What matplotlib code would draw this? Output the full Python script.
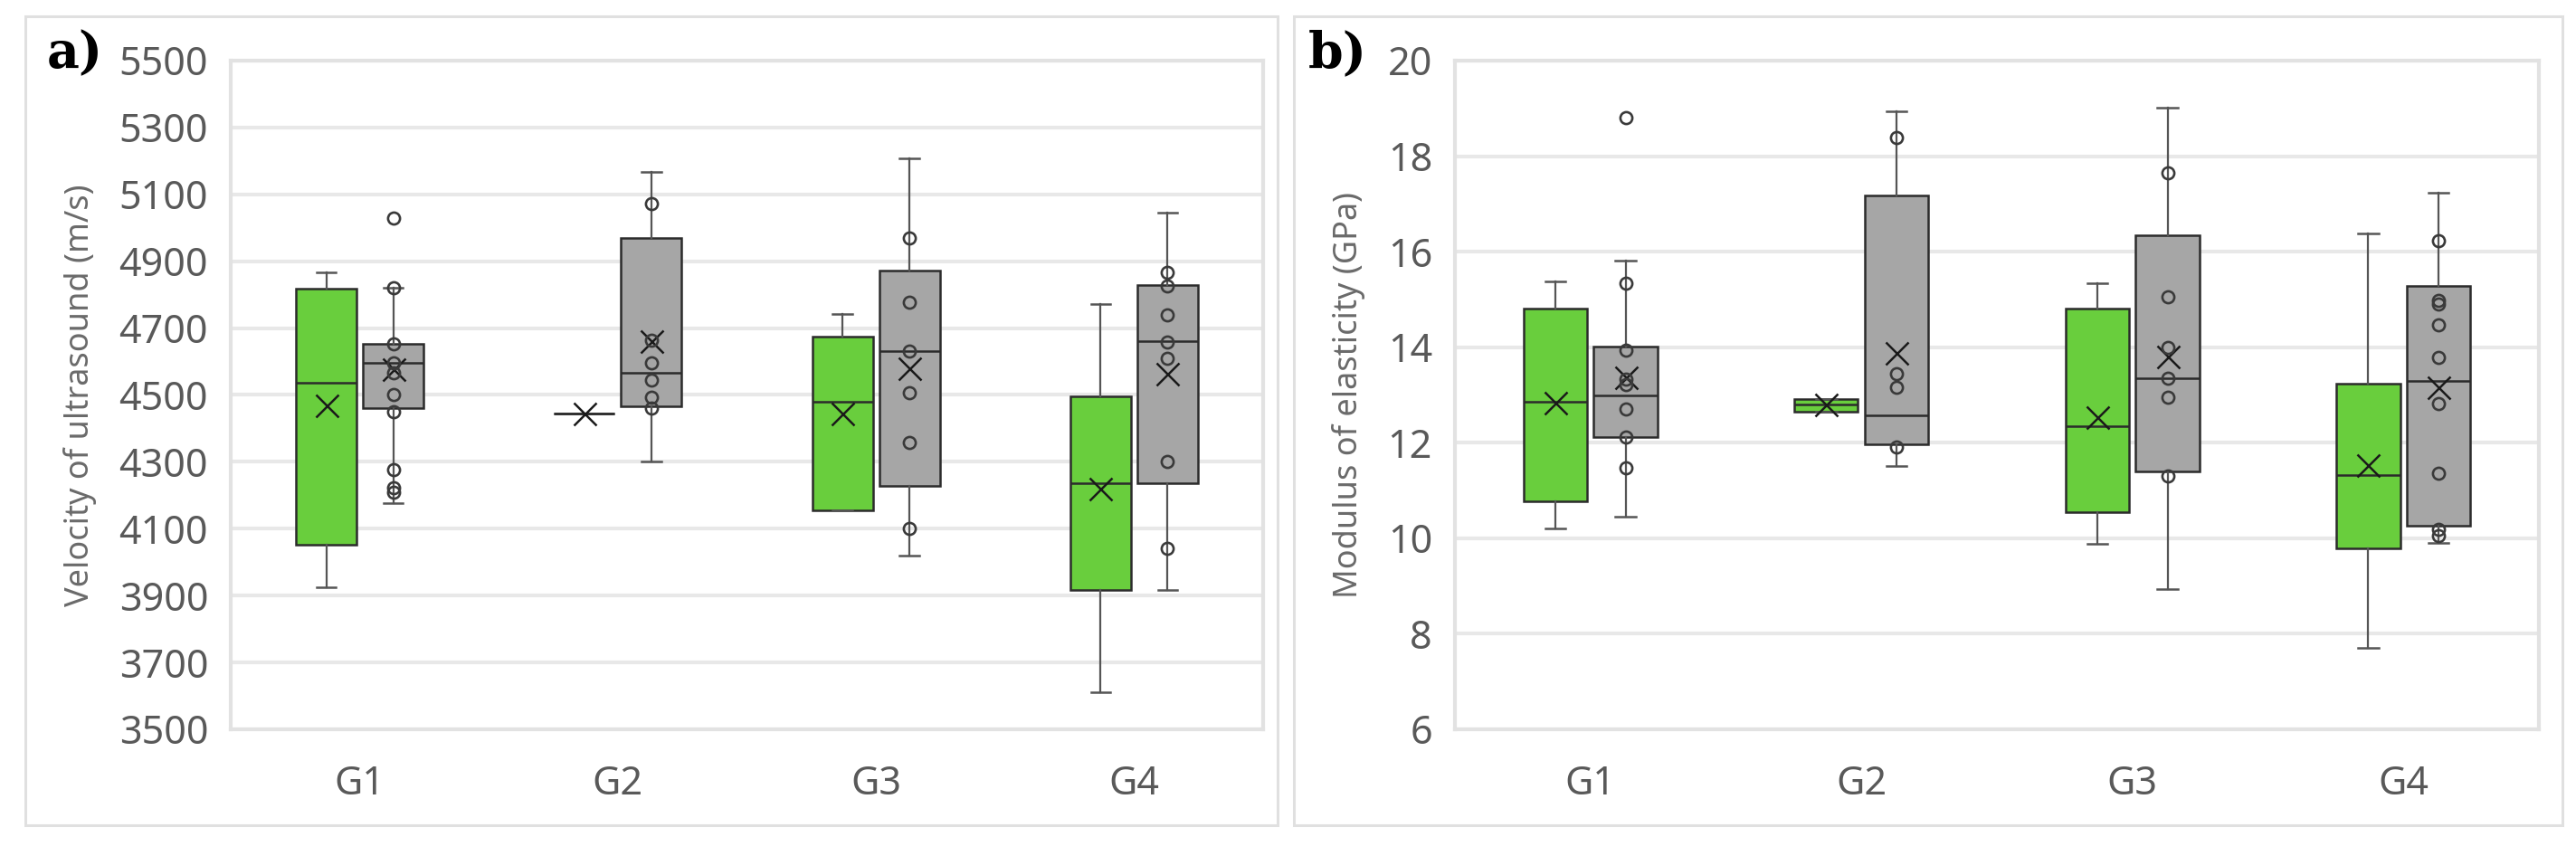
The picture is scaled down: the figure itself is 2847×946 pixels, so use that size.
import matplotlib
matplotlib.use("Agg")
import matplotlib.pyplot as plt
from matplotlib.patches import Rectangle

plt.rcParams['font.family'] = ['Noto Sans', 'DejaVu Sans']

groups = ["G1", "G2", "G3", "G4"]

# a) velocity of ultrasound, green series (summary read off the boxes)
vel_green_lo = [3925, 4445, 4154, 3611]
vel_green_q1 = [4051, 4445, 4154, 3917]
vel_green_med = [4537, 4445, 4479, 4237]
vel_green_q3 = [4817, 4445, 4675, 4497]
vel_green_hi = [4868, 4445, 4742, 4773]
vel_green_mean = [4468, 4445, 4445, 4220]

# a) gray series
vel_gray_lo = [4177, 4300, 4020, 3917]
vel_gray_q1 = [4462, 4466, 4228, 4237]
vel_gray_med = [4596, 4566, 4631, 4660]
vel_gray_q3 = [4654, 4969, 4871, 4828]
vel_gray_hi = [4820, 5166, 5209, 5045]
vel_gray_mean = [4578, 4660, 4580, 4563]
vel_gray_points = [
    [5028, 4820, 4654, 4595, 4565, 4500, 4449, 4276, 4222, 4208],
    [5071, 4665, 4596, 4545, 4494, 4460],
    [4969, 4778, 4631, 4508, 4357, 4100],
    [4866, 4826, 4740, 4658, 4610, 4300, 4040],
]

# b) modulus of elasticity, green series
moe_green_lo = [10.20, 12.64, 9.88, 7.70]
moe_green_q1 = [10.77, 12.64, 10.54, 9.78]
moe_green_med = [12.85, 12.80, 12.34, 11.32]
moe_green_q3 = [14.81, 12.92, 14.80, 13.23]
moe_green_hi = [15.37, 12.92, 15.33, 16.38]
moe_green_mean = [12.83, 12.80, 12.53, 11.54]

# b) gray series
moe_gray_lo = [10.46, 11.52, 8.94, 9.90]
moe_gray_q1 = [12.11, 11.96, 11.39, 10.27]
moe_gray_med = [12.99, 12.57, 13.35, 13.30]
moe_gray_q3 = [14.02, 17.17, 16.35, 15.29]
moe_gray_hi = [15.82, 18.93, 19.02, 17.23]
moe_gray_mean = [13.36, 13.88, 13.81, 13.16]
moe_gray_points = [
    [18.80, 15.34, 13.94, 13.33, 13.21, 12.71, 12.11, 11.47],
    [18.38, 13.45, 13.16, 11.91],
    [17.65, 15.06, 14.00, 13.35, 12.95, 11.30],
    [16.23, 14.98, 14.91, 14.47, 13.79, 12.82, 11.36, 10.19, 10.05],
]

GREEN = "#69CE3D"
GRAY = "#A6A6A6"
TXT = "#595959"


def make_stats(lo, q1, med, q3, hi, mean):
    """build the dicts that bxp wants"""
    return [dict(whislo=a, q1=b, med=c, q3=d, whishi=e, mean=f, fliers=[])
            for a, b, c, d, e, f in zip(lo, q1, med, q3, hi, mean)]


def draw_boxes(ax, stats, pos, color):
    ax.bxp(stats, positions=pos, widths=0.235, capwidths=0.075,
           showmeans=True, showfliers=False, patch_artist=True,
           boxprops=dict(facecolor=color, edgecolor="#2b2b2b", linewidth=1.8),
           medianprops=dict(color="#2b2b2b", linewidth=1.8),
           whiskerprops=dict(color="#555555", linewidth=1.6),
           capprops=dict(color="#555555", linewidth=1.8),
           meanprops=dict(marker="x", markersize=18, markeredgewidth=1.8,
                          markeredgecolor="#1a1a1a"))


def panel(ax, green, gray, points, ylim, ticks, ylabel):
    xs = range(1, len(groups) + 1)
    pos_green = [x - 0.13 for x in xs]
    pos_gray = [x + 0.13 for x in xs]
    draw_boxes(ax, make_stats(*green), pos_green, GREEN)
    draw_boxes(ax, make_stats(*gray), pos_gray, GRAY)
    for p, pts in zip(pos_gray, points):
        ax.plot([p] * len(pts), pts, linestyle="none", marker="o", markersize=9.5,
                markerfacecolor="none", markeredgecolor="#3a3a3a",
                markeredgewidth=1.9, zorder=5)
    ax.set_xlim(0.5, len(groups) + 0.5)
    ax.set_ylim(*ylim)
    ax.set_yticks(ticks)
    ax.set_xticks(list(xs))
    ax.set_xticklabels(groups)
    ax.grid(axis="y", color="#E8E8E8", linewidth=3)
    ax.set_axisbelow(True)
    for s in ax.spines.values():
        s.set_color("#E2E2E2")
        s.set_linewidth(3)
    ax.tick_params(axis="y", length=0, pad=18, labelsize=31, labelcolor=TXT)
    ax.tick_params(axis="x", length=0, pad=28, labelsize=31, labelcolor=TXT)
    ax.set_ylabel(ylabel, fontsize=26, color="#6a6a6a", labelpad=18)


fig = plt.figure(figsize=(28.47, 9.46), dpi=100)
ax1 = fig.add_axes([0.0896, 0.148, 0.4007, 0.7812])
ax2 = fig.add_axes([0.5648, 0.148, 0.4208, 0.7812])

panel(ax1,
      (vel_green_lo, vel_green_q1, vel_green_med, vel_green_q3, vel_green_hi, vel_green_mean),
      (vel_gray_lo, vel_gray_q1, vel_gray_med, vel_gray_q3, vel_gray_hi, vel_gray_mean),
      vel_gray_points, (3500, 5500), range(3500, 5501, 200),
      "Velocity of ultrasound (m/s)")
panel(ax2,
      (moe_green_lo, moe_green_q1, moe_green_med, moe_green_q3, moe_green_hi, moe_green_mean),
      (moe_gray_lo, moe_gray_q1, moe_gray_med, moe_gray_q3, moe_gray_hi, moe_gray_mean),
      moe_gray_points, (6, 20), range(6, 21, 2),
      "Modulus of elasticity (GPa)")

# outer frames of the two panels
fig.add_artist(Rectangle((0.0098, 0.036), 0.4862, 0.945, transform=fig.transFigure,
                         fill=False, edgecolor="#E0E0E0", linewidth=2.2))
fig.add_artist(Rectangle((0.5023, 0.036), 0.4925, 0.945, transform=fig.transFigure,
                         fill=False, edgecolor="#E0E0E0", linewidth=2.2))

fig.text(0.029, 0.937, "a)", fontsize=40, fontweight="bold", family="DejaVu Serif",
         ha="center", va="center", color="black")
fig.text(0.5193, 0.937, "b)", fontsize=40, fontweight="bold", family="DejaVu Serif",
         ha="center", va="center", color="black")

fig.savefig("out.png", dpi=100)
